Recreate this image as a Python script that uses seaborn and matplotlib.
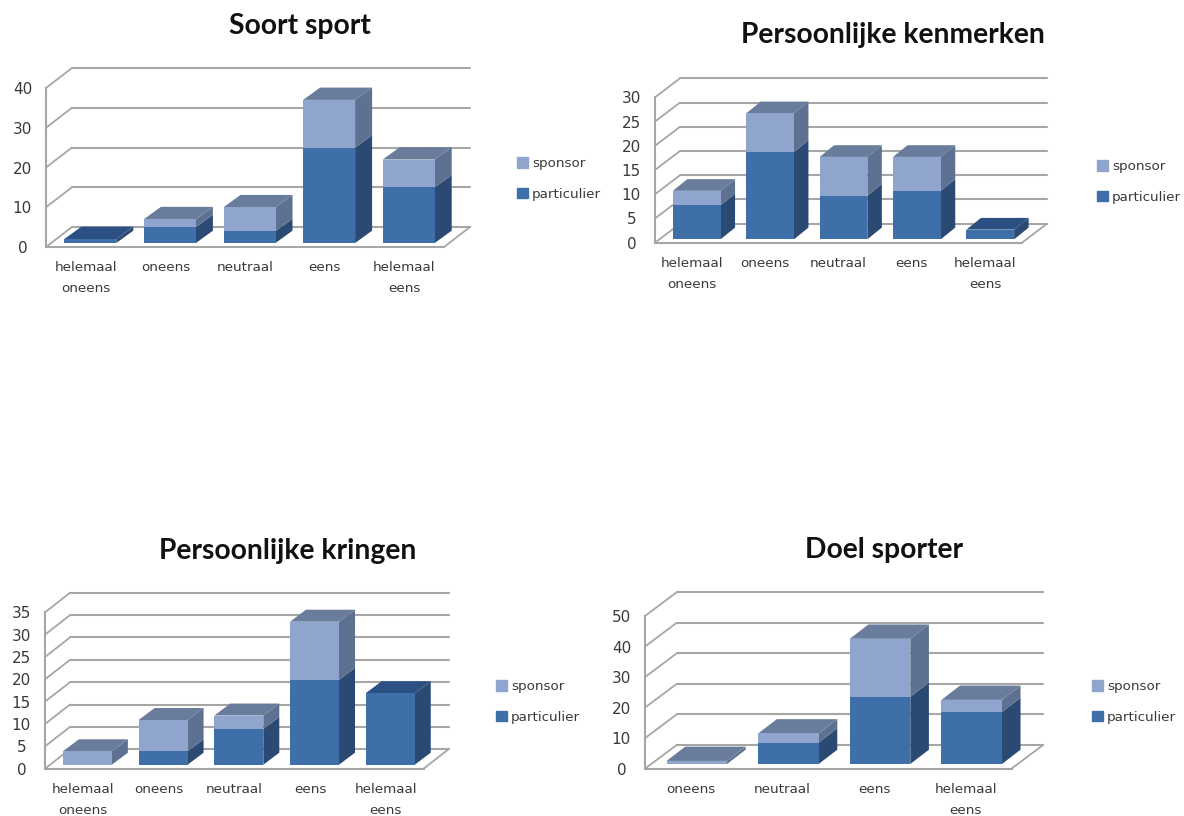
import matplotlib
matplotlib.use("Agg")
import matplotlib.pyplot as plt
from matplotlib.patches import Patch
import seaborn as sns

W, H = 1184, 816

CATS_FIVE = ["helemaal\noneens", "oneens", "neutraal", "eens", "helemaal\neens"]
CATS_FOUR = ["oneens", "neutraal", "eens", "helemaal\neens"]

SOORT_PARTICULIER = [1, 4, 3, 24, 14]
SOORT_SPONSOR = [0, 2, 6, 12, 7]
KENMERKEN_PARTICULIER = [7, 18, 9, 10, 2]
KENMERKEN_SPONSOR = [3, 8, 8, 7, 0]
KRINGEN_PARTICULIER = [0, 3, 8, 19, 16]
KRINGEN_SPONSOR = [3, 7, 3, 13, 0]
DOEL_PARTICULIER = [0, 7, 22, 17]
DOEL_SPONSOR = [1, 3, 19, 4]

TITLES = ["Soort sport", "Persoonlijke kenmerken", "Persoonlijke kringen", "Doel sporter"]

# Colours of the dark and the light stack: front, side and top faces
DARK = ("#3F6FA8", "#2A4A74", "#2C5083")
LIGHT = ("#90A5CD", "#5E7190", "#6A7C9C")
GRID = "#A6A6A6"
INK = "#3A3A3A"

sns.set_style("white")
plt.rcParams["font.family"] = ["DejaVu Sans"]

fig = plt.figure(figsize=(W / 100, H / 100), dpi=100, facecolor="white")


def draw_panel(title, cats, particulier, sponsor, ymax, step, box, wall, bar, title_xy, legend_xy):
    x0, x1, y0, ytop = box
    wall_dx, wall_dy = wall
    bar_w, bar_dx, bar_dy, off_x, off_y = bar
    n = len(cats)
    ax = fig.add_axes([x0 / W, 1 - y0 / H, (x1 - x0) / W, (y0 - ytop) / H])
    ppx = (x1 - x0) / n
    ppy = (y0 - ytop) / ymax

    totals = [p + s for p, s in zip(particulier, sponsor)]
    # Overlaid bars form the stack: totals behind, lower series in front
    sns.barplot(x=cats, y=totals, color=LIGHT[0], saturation=1, width=bar_w / ppx,
                ax=ax, linewidth=0, zorder=4)
    sns.barplot(x=cats, y=particulier, color=DARK[0], saturation=1, width=bar_w / ppx,
                ax=ax, linewidth=0, zorder=4)
    ox, oy = off_x / ppx, off_y / ppy
    for patch in ax.patches:
        patch.set_x(patch.get_x() + ox)
        patch.set_y(patch.get_y() + oy)
        patch.set_clip_on(False)

    wx, wy = wall_dx / ppx, wall_dy / ppy
    left, right = -0.5, n - 0.5

    # Back wall, left wall and floor
    for v in range(0, ymax + 1, step):
        ax.plot([left + wx, right + wx], [v + wy, v + wy], color=GRID, lw=1.5, clip_on=False, zorder=1)
        ax.plot([left, left + wx], [v, v + wy], color=GRID, lw=1.3, clip_on=False, zorder=1)
    ax.plot([right, right + wx], [0, wy], color=GRID, lw=1.3, clip_on=False, zorder=1)

    # Side and top faces of every stack, derived from the same values
    bx, by = bar_dx / ppx, bar_dy / ppy
    half = bar_w / ppx / 2
    for i in range(n):
        xl, xr = i - half + ox, i + half + ox
        lo, hi = oy, particulier[i] + oy
        top = totals[i] + oy
        if particulier[i] > 0:
            ax.fill([xr, xr + bx, xr + bx, xr], [lo, lo + by, hi + by, hi],
                    color=DARK[1], lw=0, clip_on=False, zorder=3)
        if sponsor[i] > 0:
            ax.fill([xr, xr + bx, xr + bx, xr], [hi, hi + by, top + by, top],
                    color=LIGHT[1], lw=0, clip_on=False, zorder=3)
        lid = LIGHT[2] if sponsor[i] > 0 else DARK[2]
        ax.fill([xl, xr, xr + bx, xl + bx], [top, top, top + by, top + by],
                color=lid, lw=0, clip_on=False, zorder=3)

    ax.set_xlim(left, right)
    ax.set_ylim(0, ymax)
    ax.set_yticks(range(0, ymax + 1, step))
    ax.set_facecolor("none")
    for side in ("top", "right"):
        ax.spines[side].set_visible(False)
    for side in ("left", "bottom"):
        ax.spines[side].set_color(GRID)
        ax.spines[side].set_linewidth(1.5)
    ax.tick_params(axis="y", length=0, pad=17, labelsize=11, labelcolor=INK)
    ax.tick_params(axis="x", length=0, pad=10, labelsize=9.7, labelcolor=INK)
    for label in ax.get_yticklabels():
        label.set_ha("center")
    for label in ax.get_xticklabels():
        label.set_linespacing(1.8)

    fig.text(title_xy[0] / W, 1 - title_xy[1] / H, title, ha="center", va="center",
             family="Lato", weight="bold", fontsize=20.3, color="#111111")

    handles = [Patch(color=LIGHT[0]), Patch(color=DARK[0])]
    ax.legend(handles, ["sponsor", "particulier"], loc="center left",
              bbox_to_anchor=(legend_xy[0] / W, 1 - legend_xy[1] / H),
              bbox_transform=fig.transFigure, frameon=False, fontsize=9.7,
              handlelength=0.8, handleheight=0.8, handletextpad=0.3,
              labelspacing=1.3, borderpad=0, borderaxespad=0, labelcolor=INK)


draw_panel(TITLES[0], CATS_FIVE, SOORT_PARTICULIER, SOORT_SPONSOR, 40, 10,
           (46, 444, 247, 88), (26, 20), (52, 17, 12.3, 4.5, 4), (300, 26), (517, 179))
draw_panel(TITLES[1], CATS_FIVE, KENMERKEN_PARTICULIER, KENMERKEN_SPONSOR, 30, 5,
           (655, 1022, 242.7, 97.3), (25, 19), (47.7, 14.5, 11.7, 5, 3.4), (893, 35), (1097, 182))
draw_panel(TITLES[2], CATS_FIVE, KRINGEN_PARTICULIER, KRINGEN_SPONSOR, 35, 5,
           (45, 423.6, 768.7, 612.3), (25, 19.5), (49, 16, 12, 4.5, 4), (288, 551), (496, 702))
draw_panel(TITLES[3], CATS_FOUR, DOEL_PARTICULIER, DOEL_SPONSOR, 50, 10,
           (645, 1011.5, 768.7, 616), (31.6, 23.7), (60.5, 18.6, 14.3, 6, 4.7), (884, 550), (1092, 702))

fig.savefig("out.png", dpi=100, facecolor="white")
